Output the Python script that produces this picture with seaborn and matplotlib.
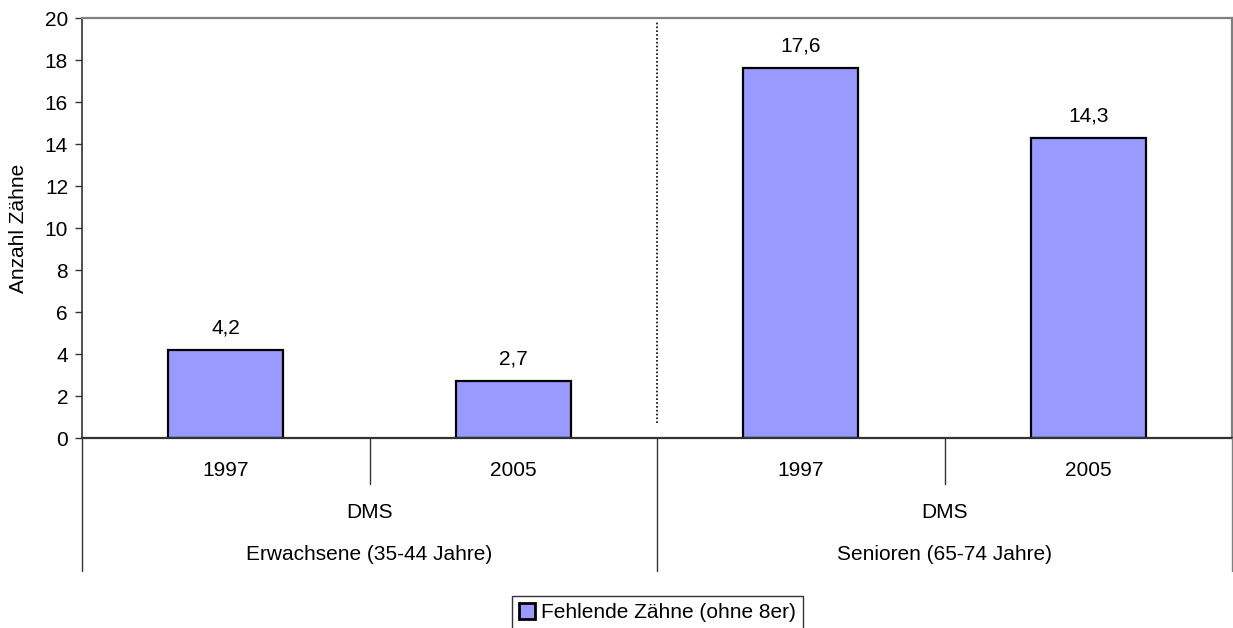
import matplotlib
matplotlib.use("Agg")
import matplotlib.pyplot as plt
import matplotlib.transforms as mtransforms
from matplotlib.lines import Line2D
from matplotlib.patches import Patch
import seaborn as sns
import pandas as pd

years = ["1997", "2005", "1997", "2005"]
study = ["DMS", "DMS"]
groups = ["Erwachsene (35-44 Jahre)", "Senioren (65-74 Jahre)"]
values = [4.2, 2.7, 17.6, 14.3]
series_name = "Fehlende Zähne (ohne 8er)"
y_ticks = list(range(0, 21, 2))

sns.set_theme(style="white")
plt.rcParams["font.family"] = ["Liberation Sans", "DejaVu Sans"]
for key in ["text.color", "axes.labelcolor", "xtick.color", "ytick.color"]:
    plt.rcParams[key] = "black"

FS = 15
df = pd.DataFrame({"pos": [0, 1, 2, 3], "val": values})

fig = plt.figure(figsize=(12.33, 6.28), dpi=100)
ax = fig.add_axes([82 / 1233, 1 - 438 / 628, 1150 / 1233, 420 / 628])

sns.barplot(data=df, x="pos", y="val", color="#9999FF", saturation=1,
            width=0.40, edgecolor="black", linewidth=1.6, ax=ax)

ax.set_xlim(-0.5, 3.5)
ax.set_ylim(0, 20)
ax.set_yticks(y_ticks)
ax.set_yticklabels([str(t) for t in y_ticks], fontsize=FS)
ax.tick_params(axis="y", length=5, width=1, color="#333333", pad=5, left=True)
ax.set_xticks([])
ax.set_xlabel("")
ax.set_ylabel("Anzahl Zähne", fontsize=FS, labelpad=12)

for side in ["top", "right"]:
    ax.spines[side].set_color("#808080")
    ax.spines[side].set_linewidth(1.6)
ax.spines["left"].set_color("#333333")
ax.spines["left"].set_linewidth(1.2)
ax.spines["bottom"].set_color("#333333")
ax.spines["bottom"].set_linewidth(1.6)

# value labels in German decimal format
for p, v in zip(df["pos"], values):
    ax.annotate(f"{v:.1f}".replace(".", ","), (p, v), xytext=(0, 9),
                textcoords="offset points", ha="center", va="bottom", fontsize=FS)

# dotted separator between the age groups
ax.plot([1.5, 1.5], [0.7, 19.8], linestyle=(0, (1, 1.3)), color="black", lw=1.2)

# hierarchical category axis below the plot
px = lambda y_pix: 1 - y_pix / 628
trans = mtransforms.blended_transform_factory(ax.transData, fig.transFigure)
for p, yr in enumerate(years):
    fig.text(p, px(470), yr, transform=trans, ha="center", va="center", fontsize=FS)
for g, (s, name) in enumerate(zip(study, groups)):
    xc = 2 * g + 0.5
    fig.text(xc, px(513), s, transform=trans, ha="center", va="center", fontsize=FS)
    fig.text(xc, px(555), name, transform=trans, ha="center", va="center", fontsize=FS)

for xs in [0.5, 2.5]:
    fig.add_artist(Line2D([xs, xs], [px(438), px(484)], transform=trans,
                          color="#333333", lw=1.0))
for xs, col in [(-0.5, "#333333"), (1.5, "#333333"), (3.5, "#808080")]:
    fig.add_artist(Line2D([xs, xs], [px(438), px(571)], transform=trans,
                          color=col, lw=1.0))

handle = Patch(facecolor="#9999FF", edgecolor="black", linewidth=2.0, label=series_name)
leg = fig.legend(handles=[handle], loc="upper center",
                 bbox_to_anchor=(657.5 / 1233, px(596)),
                 fontsize=FS, frameon=True, fancybox=False, handlelength=0.75,
                 handleheight=0.75, handletextpad=0.3, borderpad=0.35,
                 borderaxespad=0)
leg.get_frame().set_edgecolor("black")
leg.get_frame().set_linewidth(1.0)

fig.savefig("out.png", dpi=100)
